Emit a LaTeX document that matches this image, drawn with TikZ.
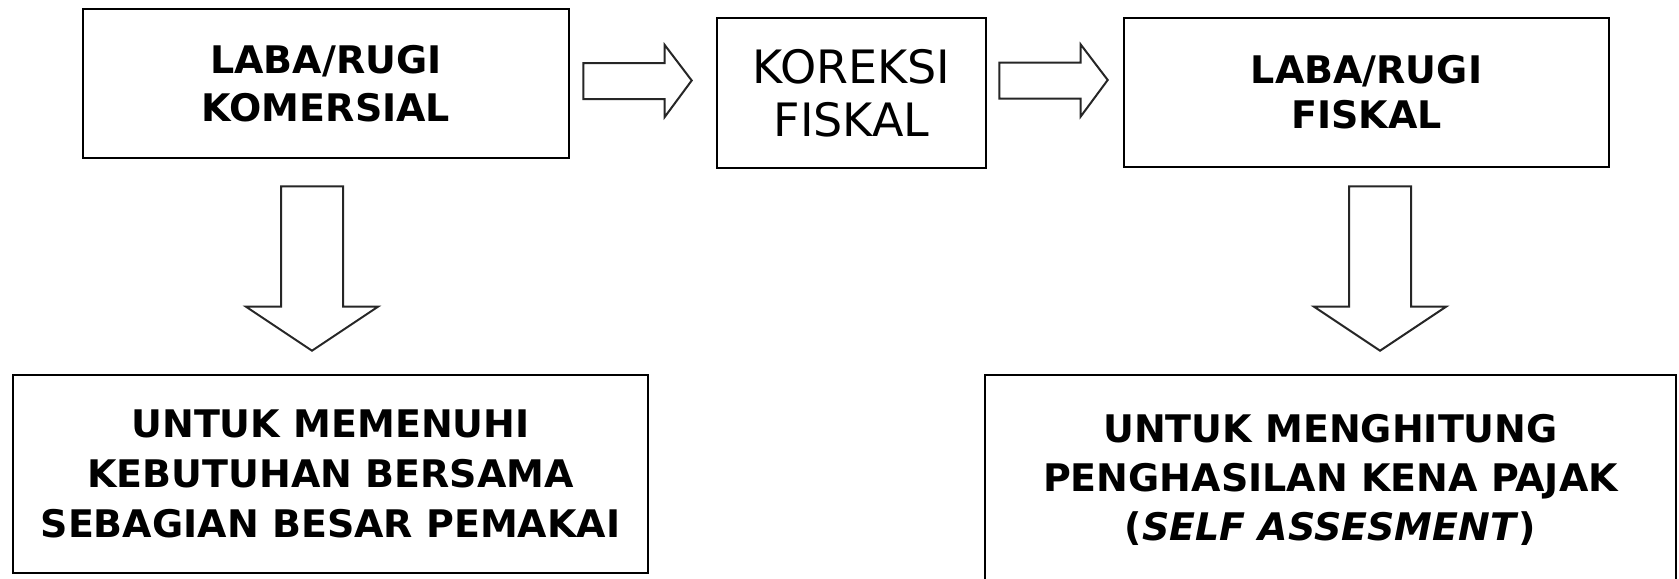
\documentclass[tikz,border=0pt]{standalone}
\usepackage{fontspec}
\setmainfont{DejaVu Sans}
\usetikzlibrary{calc}

% horizontal block arrow: tail centre #1, tip #2
\newcommand\rightblock[2]{%
  \draw[blk] let \p1=(#1), \p2=(#2) in
    (\x1,\y1+9pt) -- (\x2-13.5pt,\y1+9pt) -- (\x2-13.5pt,\y1+18pt) -- (\x2,\y2)
    -- (\x2-13.5pt,\y1-18pt) -- (\x2-13.5pt,\y1-9pt) -- (\x1,\y1-9pt) -- cycle;}
% vertical block arrow pointing down: tail centre #1, tip #2
\newcommand\downblock[2]{%
  \draw[blk] let \p1=(#1), \p2=(#2) in
    (\x1-15.5pt,\y1) -- (\x1+15.5pt,\y1) -- (\x1+15.5pt,\y2+22pt) -- (\x1+33pt,\y2+22pt)
    -- (\x2,\y2) -- (\x1-33pt,\y2+22pt) -- (\x1-15.5pt,\y2+22pt) -- cycle;}

\begin{document}
\begin{tikzpicture}[x=0.5pt,y=-0.5pt,
  box/.style={draw=black, line width=1.3pt, fill=white, inner sep=0pt, align=center},
  boldtxt/.style={font=\bfseries\fontsize{19}{24}\selectfont},
  plaintxt/.style={font=\fontsize{23}{26.5}\selectfont},
  blk/.style={draw=black!85, line width=1pt, fill=white, line join=miter}]
\clip (0,0) rectangle (1679,578);
\fill[white] (0,0) rectangle (1679,578);

% top row
\node[box,boldtxt,minimum width=243pt,minimum height=74.5pt] (lrk) at (326,83.5)
  {LABA/RUGI\\KOMERSIAL};
\node[box,plaintxt,minimum width=134.5pt,minimum height=75pt] (kor) at (851.5,93)
  {KOREKSI\\FISKAL};
\node[box,font=\bfseries\fontsize{19}{22.5}\selectfont,minimum width=242.5pt,minimum height=74.5pt] (lrf) at (1366.5,92.5)
  {LABA/RUGI\\FISKAL};

% bottom row
\node[box,font=\bfseries\fontsize{19}{25}\selectfont,minimum width=317.5pt,minimum height=99pt] (pem) at (330.5,474)
  {UNTUK MEMENUHI\\KEBUTUHAN BERSAMA\\SEBAGIAN BESAR PEMAKAI};
\node[box,font=\bfseries\fontsize{19}{24.5}\selectfont,minimum width=345.5pt,minimum height=105pt] (pkp) at (1330.5,480)
  {UNTUK MENGHITUNG\\PENGHASILAN KENA PAJAK\\(\textit{SELF ASSESMENT})};

% arrow end points
\coordinate (r1s) at ($(lrk.east)+(13,-2.5)$);
\coordinate (r1e) at ($(kor.west)+(-24,-12.5)$);
\coordinate (r2s) at ($(kor.east)+(12,-12.5)$);
\coordinate (r2e) at ($(lrf.west)+(-15,-12.5)$);
\coordinate (d1s) at ($(lrk.south)+(-14,27)$);
\coordinate (d1e) at ($(pem.north)+(-18.5,-23)$);
\coordinate (d2s) at ($(lrf.south)+(13.5,18)$);
\coordinate (d2e) at ($(pkp.north)+(49.5,-23)$);

\rightblock{r1s}{r1e}
\rightblock{r2s}{r2e}
\downblock{d1s}{d1e}
\downblock{d2s}{d2e}
\end{tikzpicture}
\end{document}
